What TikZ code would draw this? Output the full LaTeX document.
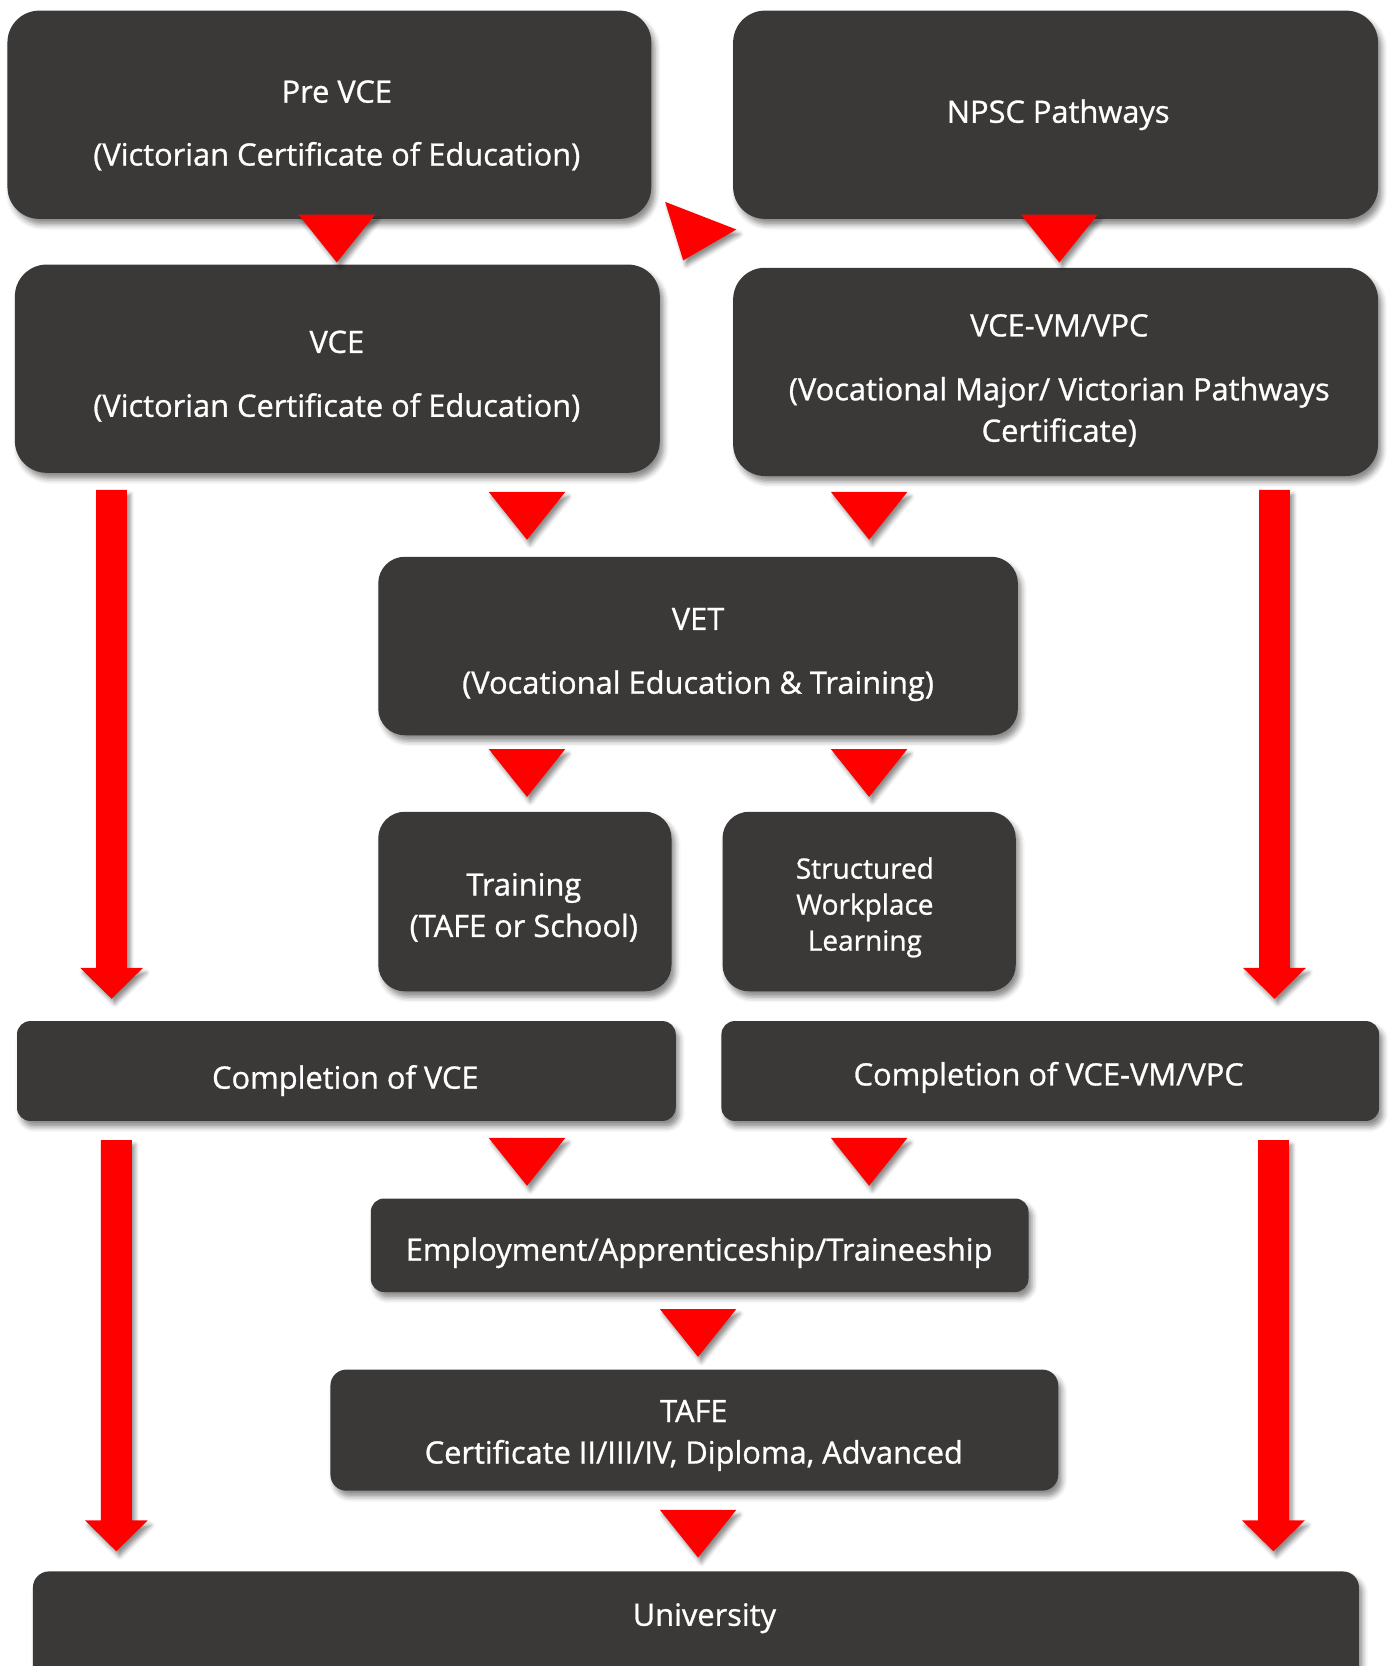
\documentclass[tikz,border=0pt]{standalone}
\usepackage{fontspec}
\setmainfont{Open Sans}[FakeBold=0.9]
\usetikzlibrary{fit,shadows.blur}
\definecolor{boxgray}{RGB}{59,57,56}
\definecolor{arrowred}{RGB}{255,0,0}
\tikzset{
  u/.style={x=0.02cm,y=-0.02cm},
  boxshadow/.style={blur shadow={shadow xshift=0.07cm,shadow yshift=-0.11cm,shadow blur radius=0.1cm,shadow opacity=45}},
  box/.style={fill=boxgray,draw=none,inner sep=0pt,boxshadow},
  txt/.style={text=white,align=center,font=\fontsize{16.5}{22.2}\selectfont,inner sep=0pt},
  smalltxt/.style={text=white,align=center,font=\fontsize{15}{19.3}\selectfont,inner sep=0pt},
  tri/.style={fill=arrowred,blur shadow={shadow xshift=0.06cm,shadow yshift=-0.09cm,shadow blur radius=0.08cm,shadow opacity=45}},
}
\newcommand\downtri[2]{\fill[tri] (#1-36,#2) -- (#1+36,#2) -- (#1,#2+45) -- cycle;}
\newcommand\longarrow[3]{\fill[tri] (#1-14.5,#2) -- (#1+14.5,#2) -- (#1+14.5,#3-29) -- (#1+29.5,#3-29) -- (#1,#3) -- (#1-29.5,#3-29) -- (#1-14.5,#3-29) -- cycle;}
\begin{document}
\begin{tikzpicture}[u]
\useasboundingbox (0,0) rectangle (1309,1568);
% boxes
\node[box,rounded corners=0.6cm,fit={(7,10) (613,206)}] (prevce) {};
\node[box,rounded corners=0.6cm,fit={(690,10) (1297,206)}] (npsc) {};
\node[box,rounded corners=0.6cm,fit={(14,249) (621,445)}] (vce) {};
\node[box,rounded corners=0.6cm,fit={(690,252) (1297,448)}] (vcevm) {};
\node[box,rounded corners=0.5cm,fit={(356,524) (958,692)}] (vet) {};
\node[box,rounded corners=0.5cm,fit={(356,764) (632,933)}] (train) {};
\node[box,rounded corners=0.5cm,fit={(680,764) (956,933)}] (swl) {};
\node[box,rounded corners=0.25cm,fit={(16,961) (636,1055)}] (compvce) {};
\node[box,rounded corners=0.25cm,fit={(679,961) (1298,1055)}] (compvm) {};
\node[box,rounded corners=0.25cm,fit={(349,1128) (968,1216)}] (emp) {};
\node[box,rounded corners=0.3cm,fit={(311,1289) (996,1403)}] (tafe) {};
\node[box,rounded corners=0.3cm,fit={(31,1479) (1279,1600)}] (uni) {};
% texts
\node[txt] (prevce-t) at (317,118) {Pre VCE\\[11.5pt](Victorian Certificate of Education)};
\node[txt] (npsc-t) at (996,108) {NPSC Pathways};
\node[txt] (vce-t) at (317,354) {VCE\\[12pt](Victorian Certificate of Education)};
\node[txt] (vcevm-t) at (997,358) {VCE-VM/VPC\\[12pt](Vocational Major/ Victorian Pathways\\Certificate)};
\node[txt] (vet-t) at (657,616) {VET\\[12pt](Vocational Education \& Training)};
\node[txt] (train-t) at (493,854) {Training\\(TAFE or School)};
\node[smalltxt] (swl-t) at (814,854) {Structured\\Workplace\\Learning};
\node[txt] (compvce-t) at (325,1017) {Completion of VCE};
\node[txt] (compvm-t) at (987,1014) {Completion of VCE-VM/VPC};
\node[txt] (emp-t) at (658,1179) {Employment/Apprenticeship/Traineeship};
\node[txt] (tafe-t) at (653,1351) {TAFE\\Certificate II/III/IV, Diploma, Advanced};
\node[txt] (uni-t) at (663,1523) {University};
% triangles
\downtri{317}{202}
\downtri{997}{202}
\downtri{496}{463}
\downtri{818}{463}
\downtri{496}{705}
\downtri{818}{705}
\downtri{496}{1071}
\downtri{818}{1071}
\downtri{657}{1232}
\downtri{657}{1421}
\fill[tri] (626,190) -- (693,216) -- (643,245) -- cycle;
% long arrows
\longarrow{105}{461}{940}
\longarrow{1199.5}{461}{940}
\longarrow{109.5}{1073}{1460}
\longarrow{1198.5}{1073}{1460}
\end{tikzpicture}
\end{document}
